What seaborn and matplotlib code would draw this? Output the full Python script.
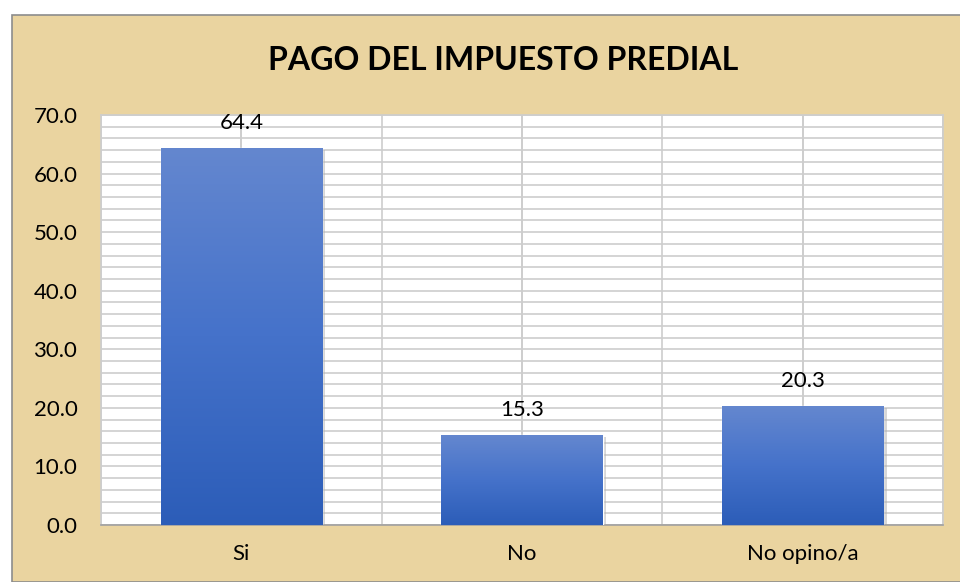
# -*- coding:utf-8 -*-
# Pago del impuesto predial - gráfico de barras
import numpy as np
import pandas as pd
import seaborn as sns
import matplotlib.pyplot as plt
from matplotlib.patches import Rectangle
from matplotlib.ticker import MultipleLocator

categorias = ['Si', 'No', 'No opino/a']
porcentajes = [64.4, 15.3, 20.3]
titulo = 'PAGO DEL IMPUESTO PREDIAL'

df = pd.DataFrame({'cat': categorias, 'pct': porcentajes})

sns.set_theme(style='white')
plt.rcParams['font.family'] = ['Lato', 'DejaVu Sans']

fig = plt.figure(figsize=(9.6, 5.82), dpi=100)
fig.patch.set_facecolor('white')
# fondo tipo pergamino
fondo = Rectangle((12 / 960, 0), 1, 1 - 15 / 582, transform=fig.transFigure,
                  facecolor='#EAD4A0', edgecolor='#8c8c8c', linewidth=1.2, zorder=-10)
fig.patches.append(fondo)

ax = fig.add_axes([101 / 960, 1 - 525 / 582, 842 / 960, 410 / 582])
ax.set_facecolor('white')

sns.barplot(data=df, x='cat', y='pct', ax=ax, color='#4472C4', width=0.575,
            saturation=1, zorder=3)

# degradado en las barras
grad = np.linspace(0, 1, 256).reshape(-1, 1)
cmap = sns.blend_palette(['#2C5DB8', '#4572CA', '#6487CF'], as_cmap=True)
for p in list(ax.patches):
    x0, y0 = p.get_x(), p.get_y()
    w, h = p.get_width(), p.get_height()
    # sombra
    ax.add_patch(Rectangle((x0 + 0.012, y0), w, h - 0.3, facecolor='#b0b0b0',
                           edgecolor='none', alpha=0.5, zorder=2))
    im = ax.imshow(grad, extent=[x0, x0 + w, y0, y0 + h], origin='lower',
                   cmap=cmap, aspect='auto', zorder=3.5)
    im.set_clip_path(p)
    ax.text(x0 + w / 2, h + 4.3, f'{h:.1f}', ha='center', va='center',
            fontsize=16, color='black', zorder=5)

ax.set_xlim(-0.5, 2.5)
ax.set_ylim(0, 70)
ax.yaxis.set_major_locator(MultipleLocator(10))
ax.yaxis.set_minor_locator(MultipleLocator(2))
ax.xaxis.set_minor_locator(MultipleLocator(0.5))
ax.yaxis.set_major_formatter(plt.FuncFormatter(lambda v, _: f'{v:.1f}'))
ax.grid(True, which='both', axis='both', color='#cdcdcd', linewidth=1.2, zorder=1)
# líneas verticales en el centro de cada categoría
ax.vlines(np.arange(len(categorias)), 0, 70, color='#cdcdcd', linewidth=1.2, zorder=1)
ax.set_axisbelow(True)

for s in ax.spines.values():
    s.set_color('#cdcdcd')
    s.set_linewidth(1.2)
ax.spines['bottom'].set_color('#a0a0a0')

ax.tick_params(axis='both', which='both', length=0, labelsize=16, colors='black')
ax.tick_params(axis='y', pad=17)
ax.tick_params(axis='x', pad=14)
ax.set_xlabel('')
ax.set_ylabel('')

fig.text(503 / 960, 1 - 60 / 582, titulo, ha='center', va='center',
         fontsize=23, fontweight='bold', color='black')

fig.savefig('out.png', dpi=100, facecolor=fig.get_facecolor())
